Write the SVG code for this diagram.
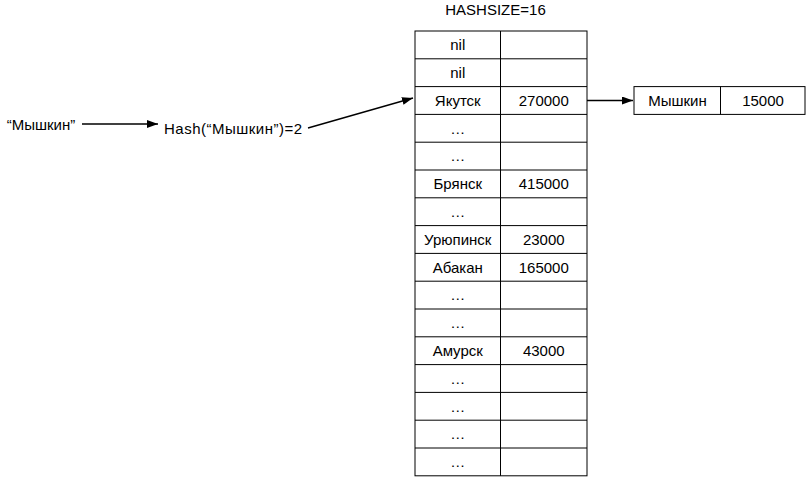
<svg xmlns="http://www.w3.org/2000/svg" width="808" height="477" viewBox="0 0 808 477">
<style>
text{font-family:"Liberation Sans",Arial,Helvetica,sans-serif;font-size:15px;fill:#000;text-anchor:middle}
.cell{fill:#fff;stroke:#000;stroke-width:1}
.conn{stroke:#000;stroke-width:1.5;fill:none}
</style>
<defs>
<marker id="arr" markerUnits="userSpaceOnUse" markerWidth="12" markerHeight="10" refX="11" refY="4" orient="auto">
<path d="M0,0 L11,4 L0,8 Z" fill="#000"/>
</marker>
</defs>
<rect width="808" height="477" fill="#fff"/>
<g id="label-hashsize"><text x="495.5" y="15">HASHSIZE=16</text></g>
<g id="key"><text x="41" y="129.5">“Мышкин”</text></g>
<g id="hash"><text x="164" y="134" style="text-anchor:start" textLength="138" lengthAdjust="spacing">Hash(“Мышкин”)=2</text></g>
<g id="table">
<rect class="cell" x="415" y="31" width="172" height="444.8"/>
<path d="M500.5,31V475.8 M415,58.8H587 M415,86.6H587 M415,114.4H587 M415,142.2H587 M415,170H587 M415,197.8H587 M415,225.6H587 M415,253.4H587 M415,281.2H587 M415,309H587 M415,336.8H587 M415,364.6H587 M415,392.4H587 M415,420.2H587 M415,448H587" stroke="#000" stroke-width="1" fill="none"/>
<text x="457.75" y="50.2">nil</text>
<text x="457.75" y="78">nil</text>
<text x="457.75" y="105.8">Якутск</text><text x="543.75" y="105.8">270000</text>
<text x="457.75" y="133.6">…</text>
<text x="457.75" y="161.4">…</text>
<text x="457.75" y="189.2">Брянск</text><text x="543.75" y="189.2">415000</text>
<text x="457.75" y="217">…</text>
<text x="457.75" y="244.8">Урюпинск</text><text x="543.75" y="244.8">23000</text>
<text x="457.75" y="272.6">Абакан</text><text x="543.75" y="272.6">165000</text>
<text x="457.75" y="300.4">…</text>
<text x="457.75" y="328.2">…</text>
<text x="457.75" y="356">Амурск</text><text x="543.75" y="356">43000</text>
<text x="457.75" y="383.8">…</text>
<text x="457.75" y="411.6">…</text>
<text x="457.75" y="439.4">…</text>
<text x="457.75" y="467.2">…</text>
</g>
<g id="entry">
<rect class="cell" x="634" y="86.6" width="171" height="27.8"/>
<path d="M720.5,86.6V114.4" stroke="#000" stroke-width="1"/>
<text x="677.5" y="105.8">Мышкин</text>
<text x="763" y="105.8">15000</text>
</g>
<g id="connectors">
<path class="conn" d="M82,124H158" marker-end="url(#arr)"/>
<path class="conn" d="M308,128L413,98" marker-end="url(#arr)"/>
<path class="conn" d="M587,100.5H633" marker-end="url(#arr)"/>
</g>
</svg>
